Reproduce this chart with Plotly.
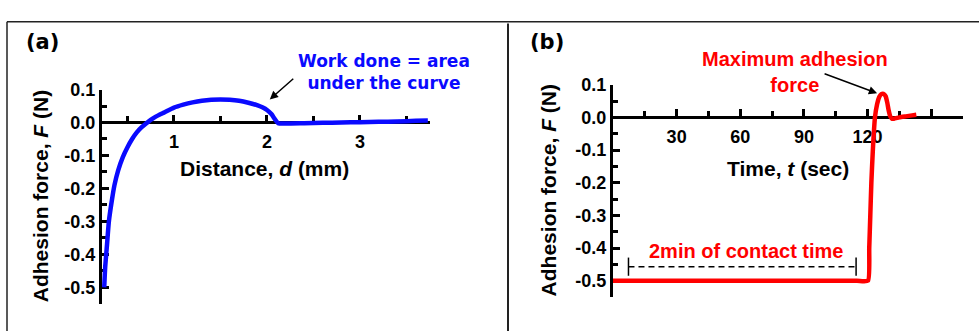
import plotly.graph_objects as go

# ---- panel (a): adhesion force vs. separation distance ----
distance_mm = [0.25, 0.26, 0.28, 0.30, 0.33, 0.36, 0.40, 0.45, 0.50, 0.55, 0.60,
               0.65, 0.70, 0.75, 0.80, 0.90, 1.00, 1.10, 1.20, 1.30, 1.40, 1.50,
               1.60, 1.70, 1.80, 1.90, 1.95, 2.00, 2.05, 2.08, 2.12, 2.20, 2.40,
               2.60, 2.80, 3.00, 3.20, 3.40, 3.60, 3.73]
force_a = [-0.50, -0.44, -0.37, -0.30, -0.24, -0.19, -0.145, -0.105, -0.075, -0.05,
           -0.03, -0.015, -0.003, 0.008, 0.017, 0.031, 0.045, 0.054, 0.061, 0.066,
           0.069, 0.070, 0.069, 0.066, 0.060, 0.052, 0.046, 0.038, 0.025, 0.012,
           -0.002, -0.003, -0.002, -0.001, 0.000, 0.001, 0.002, 0.003, 0.005, 0.006]

# ---- panel (b): adhesion force vs. time ----
time_s = [0, 20, 40, 60, 80, 100, 115, 120.2, 120.8, 121.3, 121.8, 122.5, 123.5,
          124.5, 125.5, 126.5, 127.5, 128.5, 129.3, 130.0, 130.7, 131.5, 132.5,
          135, 138, 141, 143]
force_b = [-0.50, -0.50, -0.50, -0.50, -0.50, -0.50, -0.50, -0.50, -0.40, -0.30,
           -0.20, -0.10, 0.00, 0.040, 0.062, 0.071, 0.072, 0.065, 0.045, 0.020,
           0.003, -0.004, -0.004, 0.000, 0.003, 0.006, 0.008]

# contact-time bracket (start, end, level)
contact_t = [7.3, 114.6]
contact_f = [-0.457, -0.457]

# tick labels
y_tickvals = [0.1, 0.0, -0.1, -0.2, -0.3, -0.4, -0.5]
y_ticktext = ["0.1", "0.0", "-0.1", "-0.2", "-0.3", "-0.4", "-0.5"]
xa_tickvals = [1, 2, 3]
xa_ticktext = ["1", "2", "3"]
xb_tickvals = [30, 60, 90, 120, 150]
xb_ticktext = ["30", "60", "90", "120", ""]

W, H = 979, 331
BLUE = "#0a0aff"
RED = "#ff0000"
ARIAL = "Liberation Sans"
DEJAVU = "DejaVu Sans"


def px(x):
    return x / W


def py(y):
    return 1 - y / H


fig = go.Figure()
fig.add_trace(go.Scatter(x=distance_mm, y=force_a, mode="lines",
                         line=dict(color=BLUE, width=4.5, shape="spline", smoothing=0.6),
                         xaxis="x", yaxis="y", showlegend=False))
fig.add_trace(go.Scatter(x=time_s, y=force_b, mode="lines",
                         line=dict(color=RED, width=4.5, shape="spline", smoothing=0.5),
                         xaxis="x2", yaxis="y2", showlegend=False))
fig.add_trace(go.Scatter(x=contact_t, y=contact_f, mode="lines+markers",
                         line=dict(color="black", width=1.5, dash="6px,4px"),
                         marker=dict(symbol="line-ns", size=13,
                                     line=dict(color="black", width=1.5)),
                         xaxis="x2", yaxis="y2", showlegend=False))

tickfont = dict(family=ARIAL, size=18, color="black", weight="bold")
axis_common = dict(showline=True, linecolor="black", linewidth=3, ticks="inside",
                   tickcolor="black", tickwidth=2.5, showgrid=False, zeroline=False,
                   tickfont=tickfont, tickmode="array", layer="below traces")

# panel (a) axes
ya_dom = [py(303), py(82)]
ya_rng = [-0.55, 0.1]
pos_a = ya_dom[0] + (0 - ya_rng[0]) / (ya_rng[1] - ya_rng[0]) * (ya_dom[1] - ya_dom[0])
fig.update_layout(
    xaxis=dict(domain=[px(102), px(430)], range=[0.226, 3.753], anchor="free",
               position=pos_a, tickvals=xa_tickvals, ticktext=xa_ticktext, ticklen=6,
               minor=dict(tickmode="linear", tick0=0, dtick=0.5, ticks="inside",
                          ticklen=5, tickwidth=2.5, tickcolor="black"),
               ticklabelstandoff=2, **axis_common),
    yaxis=dict(domain=ya_dom, range=ya_rng, anchor="x", tickvals=y_tickvals,
               ticktext=y_ticktext, ticklen=7,
               minor=dict(tickmode="linear", tick0=0, dtick=0.05, ticks="inside",
                          ticklen=5, tickwidth=2.5, tickcolor="black"),
               **axis_common),
)

# panel (b) axes
yb_dom = [py(296), py(77)]
yb_rng = [-0.55, 0.1]
pos_b = yb_dom[0] + (0 - yb_rng[0]) / (yb_rng[1] - yb_rng[0]) * (yb_dom[1] - yb_dom[0])
fig.update_layout(
    xaxis2=dict(domain=[px(613), px(963)], range=[0, 165], anchor="free",
                position=pos_b, tickvals=xb_tickvals, ticktext=xb_ticktext, ticklen=7,
                minor=dict(tickmode="linear", tick0=0, dtick=15, ticks="inside",
                           ticklen=5, tickwidth=2.5, tickcolor="black"),
                ticklabelstandoff=2, **axis_common),
    yaxis2=dict(domain=yb_dom, range=yb_rng, anchor="x2", tickvals=y_tickvals,
                ticktext=y_ticktext, ticklen=7,
                minor=dict(tickmode="linear", tick0=0, dtick=0.05, ticks="inside",
                           ticklen=5, tickwidth=2.5, tickcolor="black"),
                **axis_common),
)

annotations = []


def label(text, x, y, size, color="black", family=ARIAL, angle=0):
    annotations.append(dict(text=text, x=px(x), y=py(y), xref="paper", yref="paper",
                            showarrow=False, textangle=angle, xanchor="center",
                            yanchor="middle",
                            font=dict(family=family, size=size, color=color,
                                      weight="bold")))


label("(a)", 42, 33, 21, family=DEJAVU)
label("(b)", 547, 33, 21, family=DEJAVU)
label("Distance, <i>d</i> (mm)", 264, 163, 21)
label("Time, <i>t</i> (sec)", 788, 163, 21)
label("Adhesion force, <i>F</i> (N)", 40, 192, 21, angle=-90)
label("Adhesion force, <i>F</i> (N)", 548, 186, 21, angle=-90)
label("Work done = area<br>under the curve", 384, 64, 17, color=BLUE, family=DEJAVU)
label("Maximum adhesion<br>force", 795, 64, 20, color=RED)
label("2min of contact time", 746, 249, 20, color=RED)

# pointer arrows
annotations.append(dict(x=2.03, y=0.07, xref="x", yref="y", text="", showarrow=True,
                        ax=25, ay=-22, arrowhead=2, arrowsize=1.1, arrowwidth=1.5,
                        arrowcolor="black"))
annotations.append(dict(x=124.5, y=0.074, xref="x2", yref="y2", text="", showarrow=True,
                        ax=-54, ay=-20, arrowhead=2, arrowsize=1.1, arrowwidth=1.5,
                        arrowcolor="black"))

# panel frame lines
frame = dict(type="line", xref="paper", yref="paper", line=dict(color="#222", width=1.5))
shapes = [
    dict(frame, x0=px(7), x1=1, y0=py(12), y1=py(12)),
    dict(frame, x0=px(7), x1=px(7), y0=py(12), y1=0),
    dict(frame, x0=px(508), x1=px(508), y0=py(14), y1=0, line=dict(color="#222", width=2)),
]

fig.update_layout(width=W, height=H, margin=dict(l=0, r=0, t=0, b=0),
                  paper_bgcolor="white", plot_bgcolor="white",
                  annotations=annotations, shapes=shapes, showlegend=False)

fig.write_html("out.html")
